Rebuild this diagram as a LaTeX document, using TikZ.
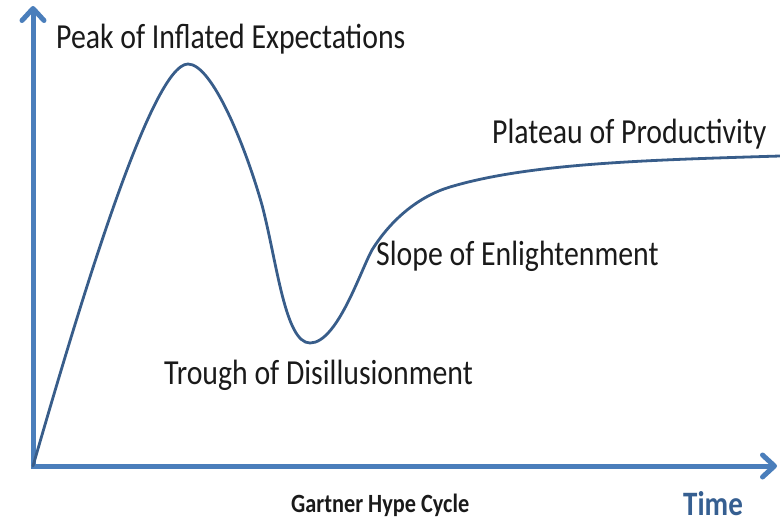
\documentclass[tikz,border=0pt]{standalone}
\usepackage{fontspec}
\setmainfont{Carlito}
\usetikzlibrary{arrows.meta}
\definecolor{axisblue}{HTML}{4A7EBB}
\definecolor{curveblue}{HTML}{385D8A}
\definecolor{timeblue}{HTML}{365F91}
\definecolor{labelgray}{HTML}{1A1A1A}
\newcommand{\tallbox}[1]{\scalebox{1}[1.18]{#1}}
\tikzset{
  axis/.style={line width=5pt, draw=axisblue, line join=miter,
    {Straight Barb[length=12pt,width=22pt,round]}-{Straight Barb[length=12pt,width=22pt,round]}},
  hype/.style={line width=2.8pt, draw=curveblue, line cap=round},
  phase/.style={inner sep=0pt, anchor=base west, text=labelgray,
    font=\fontsize{29.8}{32}\selectfont},
}
\begin{document}
\begin{tikzpicture}[x=1pt,y=-1pt]
            \useasboundingbox (0,0) rectangle (780,522);
            % Axes
            \coordinate (origin) at (33,466);
            \coordinate (ytip) at (33,6);
            \coordinate (xtip) at (777,466);
            \draw[axis] (ytip) -- (origin) -- (xtip);
            
            % Hype curve
            \coordinate (peak) at (188,64);
            \coordinate (fall) at (262,205);
            \coordinate (trough) at (310,343);
            \coordinate (rise) at (372,250);
            \coordinate (knee) at (450,187);
            \coordinate (plateau) at (780,156);
            \draw[hype] (origin) .. controls (73,328) and (150,64) .. (peak)
                .. controls (212,64) and (245,145) .. (fall)
                .. controls (277,262) and (285,343) .. (trough)
                .. controls (337,343) and (360,272) .. (rise)
                .. controls (392,218) and (420,196) .. (knee)
                .. controls (530,163) and (650,160) .. (plateau);
            
            % Phases
            \node[phase] (peaklbl) at (56,48) {\tallbox{Peak of Inflated Expectations}};
            \node[phase] (plateaulbl) at (492,143) {\tallbox{Plateau of Productivity}};
            \node[phase] (slopelbl) at (376,265) {\tallbox{Slope of Enlightenment}};
            \node[phase] (troughlbl) at (164,384) {\tallbox{Trough of Disillusionment}};
            
            % Captions
            \node[phase, font=\fontsize{22.3}{24}\selectfont\bfseries] (title) at (291,512) {\tallbox{Gartner Hype Cycle}};
            \node[phase, text=timeblue, font=\fontsize{29}{31}\selectfont\bfseries] (timelbl) at (683,515) {\tallbox{Time}};
        \end{tikzpicture}
\end{document}
